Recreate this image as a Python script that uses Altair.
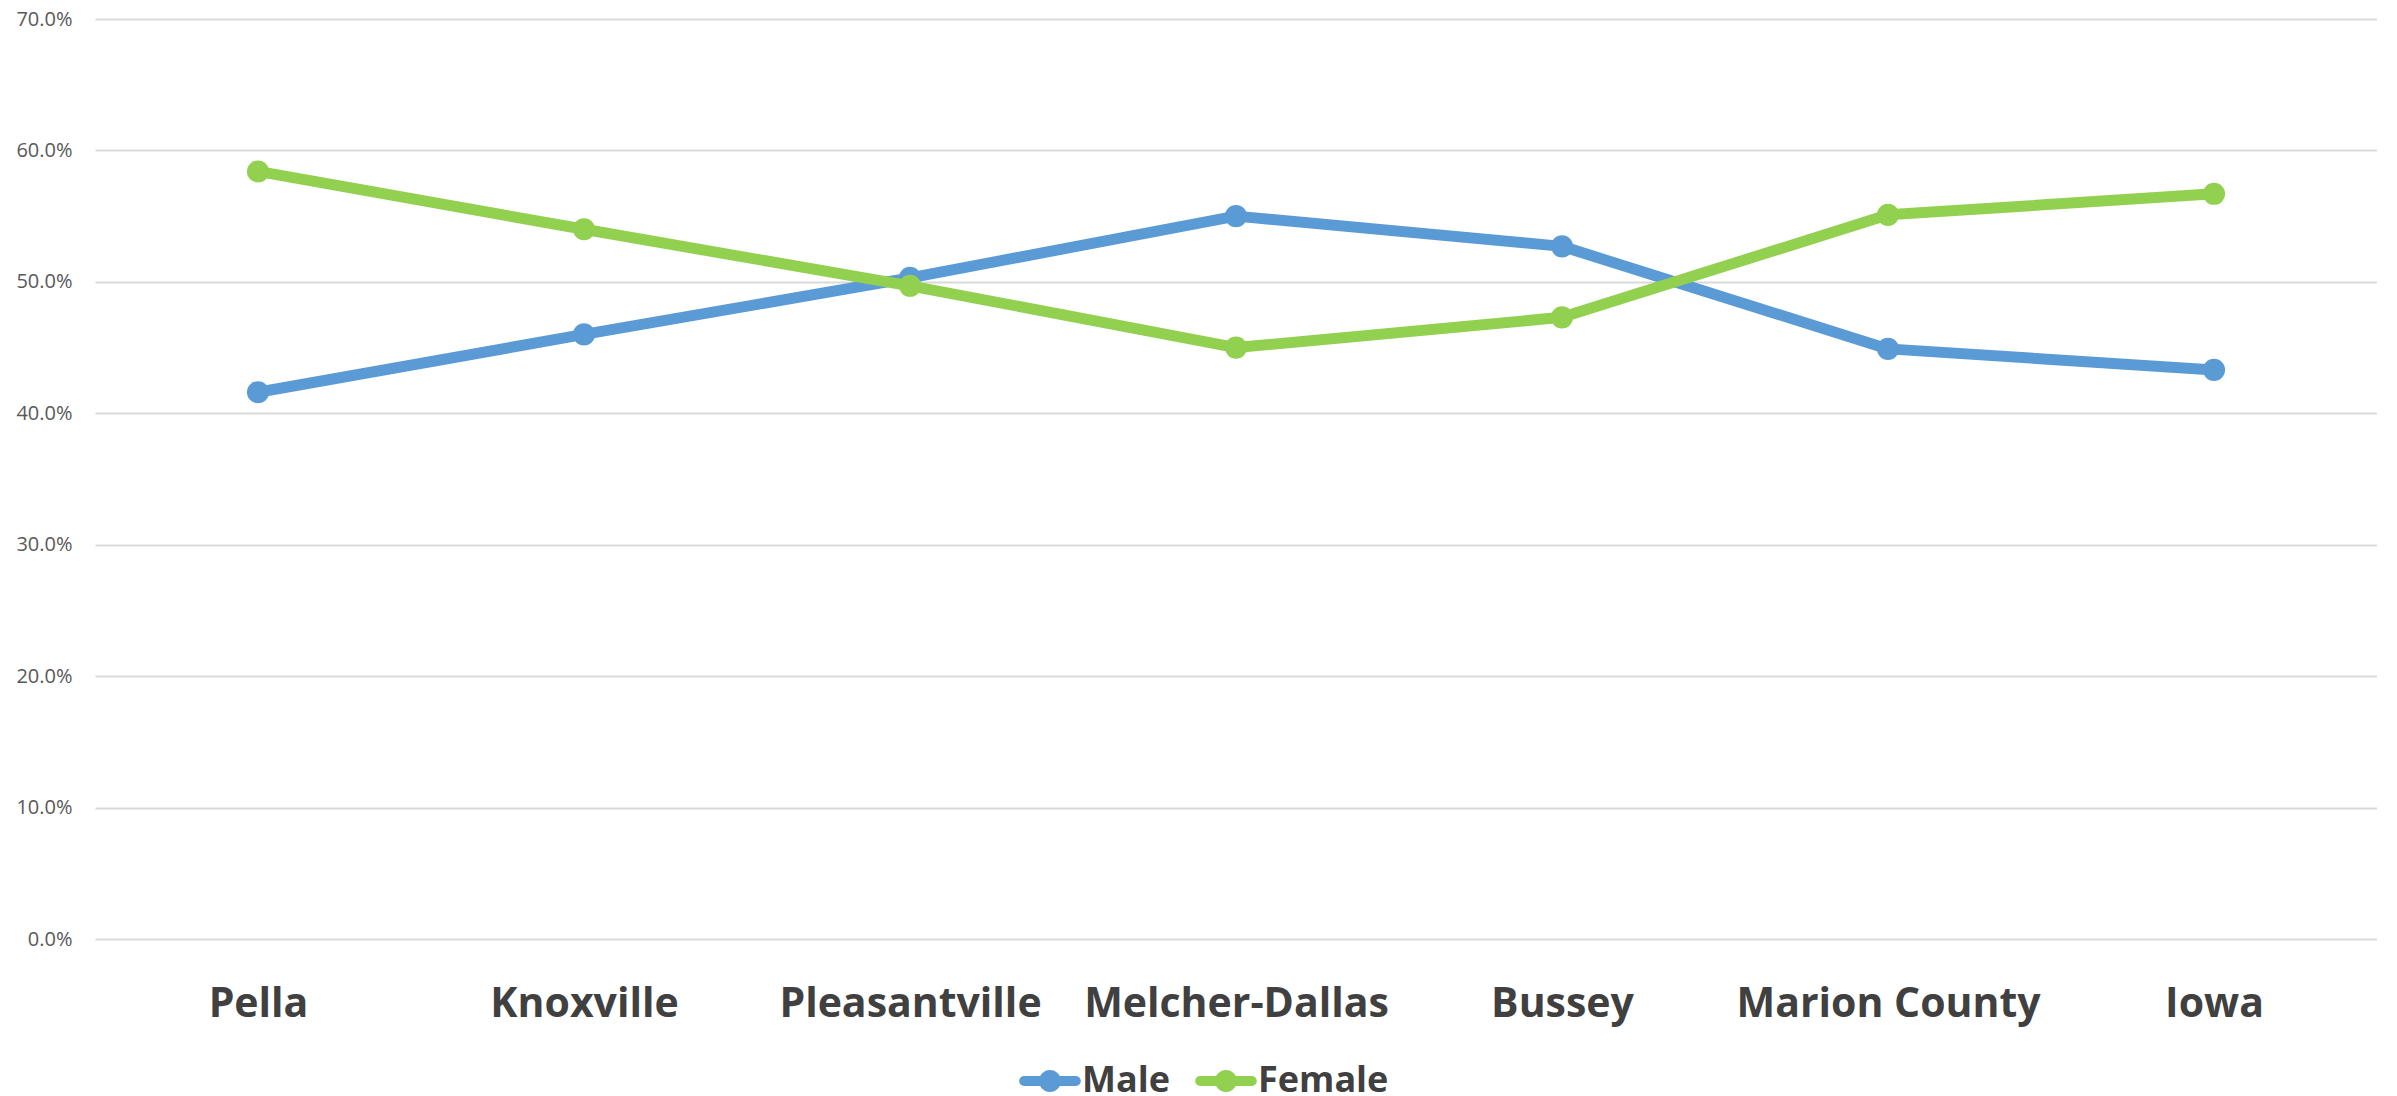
import altair as alt
import pandas as pd

categories = ["Pella", "Knoxville", "Pleasantville", "Melcher-Dallas", "Bussey", "Marion County", "Iowa"]
male = [0.416, 0.460, 0.503, 0.550, 0.527, 0.449, 0.433]
female = [0.584, 0.540, 0.497, 0.450, 0.473, 0.551, 0.567]
series = ["Male", "Female"]
colors = ["#5B9BD5", "#92D050"]
y_ticks = [0.0, 0.1, 0.2, 0.3, 0.4, 0.5, 0.6, 0.7]

rows = []
for s, vals in zip(series, [male, female]):
    for c, v in zip(categories, vals):
        rows.append({"Place": c, "Series": s, "LineSeries": s, "Value": v})
df = pd.DataFrame(rows)

legend_symbol = (
    "M-2.35,-0.45 L2.35,-0.45 A0.45,0.45 0 0 1 2.35,0.45 L-2.35,0.45 "
    "A0.45,0.45 0 0 1 -2.35,-0.45 Z M-1,0 A1,1 0 1 1 1,0 A1,1 0 1 1 -1,0 Z"
)

x_enc = alt.X("Place:N", sort=categories, title=None,
              axis=alt.Axis(labelAngle=0, labelFont="Open Sans", labelFontWeight="bold", labelFontSize=41,
                            labelColor="#404040", labelPadding=45, labelLimit=0, ticks=False, tickSize=0,
                            domain=False, grid=False))
y_enc = alt.Y("Value:Q", title=None, scale=alt.Scale(domain=[0, 0.7], nice=False),
              axis=alt.Axis(values=y_ticks, format=".1%", labelFont="Open Sans", labelFontSize=20,
                            labelColor="#595959", labelPadding=23, ticks=False, tickSize=0, domain=False,
                            grid=True, gridColor="#d9d9d9", gridWidth=2))
# line colours: same mapping, domain listed in reverse so this scale is kept apart from the legend's
stroke_enc = alt.Stroke("LineSeries:N", scale=alt.Scale(domain=series[::-1], range=colors[::-1]), legend=None)
fill_enc = alt.Fill("Series:N", scale=alt.Scale(domain=series, range=colors),
                    legend=alt.Legend(title=None, orient="none", direction="horizontal", legendX=937, legendY=1044,
                                      symbolType=legend_symbol, symbolSize=484, symbolStrokeWidth=0,
                                      labelFont="Open Sans", labelFontWeight="bold", labelFontSize=36,
                                      labelColor="#404040", labelOffset=14, labelLimit=0, columnPadding=25,
                                      padding=0))

base = alt.Chart(df)
layers = []
for s in series:
    sub = base.transform_filter(alt.datum.Series == s)
    layers.append(sub.mark_line(strokeWidth=11, strokeCap="round", strokeJoin="round").encode(x=x_enc, y=y_enc, stroke=stroke_enc))
    layers.append(sub.mark_point(filled=True, size=490, opacity=1).encode(x=x_enc, y=y_enc, fill=fill_enc))

chart = (
    alt.layer(*layers)
    .properties(width=2282, height=920, autosize=alt.AutoSizeParams(type="none"),
                padding={"left": 87, "top": 11, "right": 0, "bottom": 156})
    .configure(background="white")
    .configure_view(stroke=None)
)

chart.save("out.html", embed_options={"renderer": "svg", "actions": False})
